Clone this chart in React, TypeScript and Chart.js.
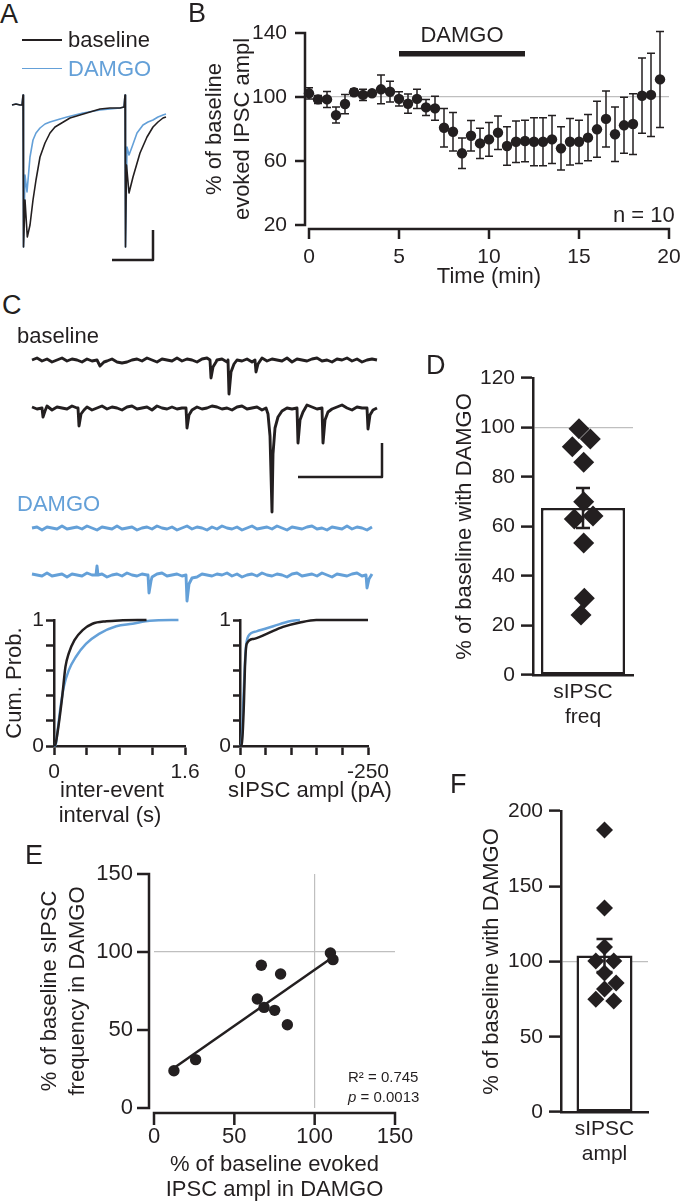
import React, { useEffect, useRef } from 'react';
import { Chart, registerables } from 'chart.js';

Chart.register(...registerables);

const FONT = "'Liberation Sans', Arial, Helvetica, sans-serif";
const INK = '#231f20';
const BLUE = '#64a0d8';
const GRID = '#bfbfbf';
Chart.defaults.font.family = FONT;
Chart.defaults.color = INK;

// ---------- Panel A : evoked IPSC traces (time ms, current pA) ----------
const aBaselineTime = [12, 16, 20, 22, 23, 23.5, 25, 27.3, 30, 33, 36, 40, 45, 50, 55, 60, 70, 80, 90, 100, 110, 120, 124, 125, 125.5, 126.5, 129, 133, 140, 147, 153, 158, 163, 166];
const aBaselineCurrent = [0, 1, 0, 0, 10, -142, -95, -132, -120, -95, -75, -52, -38, -28, -22, -19, -13, -10, -7, -4, -3, -3, -2, 10, -142, -60, -88, -72, -48, -32, -22, -17, -13, -12];
const aDamgoTime = [12, 16, 20, 22, 23, 23.5, 25, 27, 30, 33, 36, 40, 45, 50, 60, 67, 83, 100, 110, 120, 124, 125, 125.5, 127, 129, 132, 137, 143, 148, 153, 158, 163, 166];
const aDamgoCurrent = [0, 1, 0, 0, 10, -142, -70, -87, -52, -35, -28, -23, -19, -17, -14, -12, -8, -5, -4, -3, -2, 10, -142, -42, -50, -42, -28, -20, -17, -15, -12, -10, -9];
const aScaleBarTime = [112, 153, 153];
const aScaleBarCurrent = [-155, -155, -125];

// ---------- Panel B : evoked IPSC time course ----------
const bTime = [0, 0.5, 1, 1.5, 2, 2.5, 3, 3.5, 4, 4.5, 5, 5.5, 6, 6.5, 7, 7.5, 8, 8.5, 9, 9.5, 10, 10.5, 11, 11.5, 12, 12.5, 13, 13.5, 14, 14.5, 15, 15.5, 16, 16.5, 17, 17.5, 18, 18.5, 19, 19.5];
const bMean = [102.3, 98.5, 98.5, 88.7, 95.6, 103, 101.3, 102.3, 104.8, 103.3, 98.8, 95.8, 98.8, 93.5, 92.9, 80.8, 78.3, 64.8, 75.8, 71, 73.5, 77.7, 69.4, 72, 72.5, 72, 72, 73.5, 67.9, 72, 72, 74.6, 79.8, 86.3, 76.7, 82.3, 83.1, 100.8, 101.3, 111];
const bSem = [3.5, 2.5, 5, 5, 6, 2, 3.5, 1, 9, 6.5, 4.5, 6, 6, 5, 7.5, 12, 12, 9.5, 9.5, 9.5, 10.5, 10.5, 12, 13, 13, 15, 15, 15, 13.5, 14.5, 13.5, 14.5, 17.5, 17.5, 17, 17.5, 19, 23.5, 26, 30];
const bDamgoPeriod = [5, 12];
const bDamgoBarLevel = 127;
const bDamgoLabelLevel = 138;

// ---------- Panel C : sIPSC traces ----------
const cSampleStart = 32;
const cSampleStep = 5;
const cTraceLevels = [-30, -78, -198, -245];
const cBase1Noise = [0, 2, -1, 1, -2, 0, 2, -1, 1, 0, -2, 1, -1, 2, 0, -1, 1, -2, -3, -2, 0, 1, -1, 2, 0, -2, 1, 0, -1, 2, -1, 1, 0, -2, 1, 2, -1, 0, 1, -2, 2, 0, -1, 1, -2, 0, 2, -1, 1, 0, -1, 2, -2, 1, 0, -1, 1, 2, -1, 0, -2, 1, 0, 2, -1, 1, -2, 0, 1, 0];
const cBase2Noise = [1, -1, 0, 2, -2, 1, 0, -1, 2, 0, -1, 1, -2, 0, 2, -1, 1, 0, -2, 1, 2, -1, 0, 1, -2, 2, 0, -1, 1, -1, 0, 2, -2, 1, -1, 0, 2, 1, -1, 0, -2, 1, 2, -1, 0, 1, -2, 1, 0, -1, 2, 0, -1, 2, 1, 3, 1, -1, 0, 2, -1, 1, 3, 0, -2, 1, 0, 2, -1, 0];
const cDamgo1Noise = [0, 1, -2, 1, 0, -1, 2, -1, 0, 1, -1, 2, 0, -2, 1, 0, -1, 2, -1, 0, 1, -2, 0, 1, -1, 2, 0, -1, 1, -2, 0, 2, -1, 1, 0, -2, 1, -1, 2, 0, -1, 1, -2, 0, 2, -1, 0, 1, -1, 2, 0, -2, 1, 0, -1, 1, 2, -1, 0, -2, 1, 0, -1, 2, -1, 1, 0, -2, 1];
const cDamgo2Noise = [1, 0, -1, 2, -1, 0, 1, -2, 1, 0, -1, 2, 0, -1, 1, -2, 0, 1, -1, 2, 0, -1, 1, 0, -2, 1, 2, -1, 0, 1, -1, 0, 2, -2, 1, 0, -1, 1, 0, 2, -1, 1, -2, 0, 1, -1, 2, 0, -1, 1, 0, -2, 1, 2, -1, 0, 1, -1, 2, 0, -2, 1, 0, -1, 1, 2, -1, 0, 1];
const cBase1Events = [
  [[97, 0], [100, -6], [104, -2]],
  [[210, 0], [211, -18], [213, -7], [216, -2]],
  [[228, 0], [229, -34], [231, -12], [234, -4]],
  [[255, 0], [256, -12], [258, -4]],
];
const cBase2Events = [
  [[42, 0], [43, -9], [45, -3]],
  [[78, 0], [79, -18], [81, -6], [84, -2]],
  [[186, 0], [187, -20], [189, -7], [192, -2]],
  [[266, 0], [268, -6], [270, -28], [272, -104], [273, -46], [275, -20], [278, -9], [282, -3]],
  [[297, 0], [298, -35], [300, -12], [303, -4]],
  [[322, 0], [323, -35], [325, -12], [328, -4]],
  [[367, 0], [368, -21], [370, -7], [373, -2]],
];
const cDamgo1Events: number[][][] = [];
const cDamgo2Events = [
  [[96, 0], [97, 9], [98, 0]],
  [[148, 0], [149, -18], [151, -6]],
  [[186, 0], [187, -26], [189, -9], [192, -3]],
  [[366, 0], [367, -13], [369, -4]],
];
const cScaleBarTime = [298, 382, 382];
const cScaleBarCurrent = [-147, -147, -113];

// ---------- Panel C : cumulative probability ----------
const cIntervalBaseX = [0, 0.02, 0.053, 0.1, 0.14, 0.18, 0.25, 0.35, 0.47, 0.64, 0.8, 1.13];
const cIntervalBaseY = [0, 0.02, 0.15, 0.39, 0.63, 0.735, 0.84, 0.92, 0.97, 0.99, 0.997, 1.0];
const cIntervalDamgoX = [0, 0.02, 0.04, 0.08, 0.12, 0.18, 0.27, 0.39, 0.55, 0.76, 0.96, 1.17, 1.52];
const cIntervalDamgoY = [0, 0.01, 0.1, 0.31, 0.47, 0.6, 0.71, 0.81, 0.89, 0.95, 0.97, 0.995, 1.0];
const cAmplBaseX = [0, -3, -5.2, -7.8, -9.7, -13, -26, -52, -84, -117, -149, -250];
const cAmplBaseY = [0, 0.01, 0.1, 0.36, 0.63, 0.81, 0.85, 0.89, 0.945, 0.98, 1.0, 1.0];
const cAmplDamgoX = [0, -3, -6.5, -9, -11, -16, -32, -65, -97, -117];
const cAmplDamgoY = [0, 0.02, 0.36, 0.6, 0.76, 0.87, 0.91, 0.95, 0.99, 1.0];

// ---------- Panel D : sIPSC frequency ----------
const dCategory = [['sIPSC', 'freq']];
const dValues = [99.5, 95.4, 92.2, 86, 70, 63, 64.2, 53.3, 31, 24.2];
const dJitter = [-0.06, 0.11, -0.16, 0.01, 0.01, -0.13, 0.15, 0.01, 0.02, -0.03];
const dMean = 67.5;
const dSem = 8.1;

// ---------- Panel E : correlation ----------
const eEvoked = [12.4, 25.9, 66.8, 78.8, 64.3, 68.5, 75.1, 83, 109.8, 111.4];
const eFreq = [23.9, 31, 91.5, 85.9, 69.9, 64.5, 62.6, 53.4, 99.4, 95.1];
const eFitX = [12.4, 111.4];
const eFitY = [25.6, 96.8];

// ---------- Panel F : sIPSC amplitude ----------
const fCategory = [['sIPSC', 'ampl']];
const fValues = [187.4, 135.5, 109.6, 100.3, 100.3, 92.3, 85.7, 81.7, 75, 73.8];
const fJitter = [0, 0, 0, -0.15, 0.16, 0, 0.2, 0, -0.15, 0.16];
const fMean = 104;
const fSem = 11;

// ---------- helpers ----------
const zip = (xs: number[], ys: number[]) => xs.map((x, i) => ({ x, y: ys[i] }));

function buildTrace(noise: number[], events: number[][][], level: number) {
  const pts: { x: number; y: number }[] = [];
  noise.forEach((v, i) => {
    const x = cSampleStart + i * cSampleStep;
    if (events.some((g) => x >= g[0][0] && x <= g[g.length - 1][0])) return;
    pts.push({ x, y: level + v });
  });
  events.forEach((g) => g.forEach(([x, v]) => pts.push({ x, y: level + v })));
  pts.sort((a, b) => a.x - b.x);
  return pts;
}

const fixW = (w: number) => (s: any) => {
  s.width = w;
  s.paddingTop = 0; s.paddingBottom = 0; s.paddingLeft = 0; s.paddingRight = 0;
};
const fixH = (h: number) => (s: any) => {
  s.height = h;
  s.paddingTop = 0; s.paddingBottom = 0; s.paddingLeft = 0; s.paddingRight = 0;
};
const only100 = (c: any) => (c.tick && c.tick.value === 100 ? GRID : 'rgba(0,0,0,0)');
const ttl = (text: any, size = 22, lh = 1.2) => ({ display: true, text, color: INK, padding: 0, font: { size, lineHeight: lh } });
const tk = (extra: any) => ({ autoSkip: false, maxRotation: 0, minRotation: 0, color: INK, ...extra });

function base(padding: any, plugins: any = {}) {
  return {
    responsive: false,
    animation: false,
    devicePixelRatio: 1,
    events: [],
    layout: { padding },
    plugins: { legend: { display: false }, tooltip: { enabled: false }, ...plugins },
  };
}

// axes drawn offset from the plot area (GraphPad style)
const gpAxes = {
  id: 'gpAxes',
  beforeDatasetsDraw(chart: any, _a: any, o: any) {
    if (!o || o.gap === undefined) return;
    const { ctx, chartArea: ca, scales } = chart;
    const xs = scales.x;
    const ys = scales.y;
    const w = o.width;
    const ax = ca.left - o.gap;
    const ay = ca.bottom + o.gap;
    ctx.save();
    ctx.strokeStyle = INK;
    ctx.lineWidth = w;
    ctx.beginPath();
    ctx.moveTo(ax, ys.getPixelForValue(ys.max) - w / 2);
    ctx.lineTo(ax, ys.getPixelForValue(ys.min) + w / 2);
    ys.ticks.forEach((t: any) => {
      const p = ys.getPixelForValue(t.value);
      ctx.moveTo(ax - o.tick, p);
      ctx.lineTo(ax, p);
    });
    ctx.moveTo(xs.getPixelForValue(xs.min) - w / 2, ay);
    ctx.lineTo(xs.getPixelForValue(xs.max) + w / 2, ay);
    xs.ticks.forEach((t: any) => {
      const p = xs.getPixelForValue(t.value);
      ctx.moveTo(p, ay);
      ctx.lineTo(p, ay + o.tick);
    });
    ctx.stroke();
    ctx.restore();
  },
};

function drawErrors(chart: any, args: any, layer: string) {
  const ds = chart.data.datasets[args.index];
  if (!ds || !ds.errors || ds.errorLayer !== layer) return;
  const meta = args.meta;
  const ys = chart.scales[meta.yAxisID];
  const ctx = chart.ctx;
  ctx.save();
  ctx.strokeStyle = INK;
  ctx.lineWidth = ds.errorWidth;
  ctx.beginPath();
  meta.data.forEach((el: any, i: number) => {
    const raw = ds.data[i];
    const v = typeof raw === 'number' ? raw : raw.y;
    const e = ds.errors[i];
    const hi = ys.getPixelForValue(v + e);
    const lo = ys.getPixelForValue(v - e);
    const c = ds.errorCap;
    ctx.moveTo(el.x, hi); ctx.lineTo(el.x, lo);
    ctx.moveTo(el.x - c, hi); ctx.lineTo(el.x + c, hi);
    ctx.moveTo(el.x - c, lo); ctx.lineTo(el.x + c, lo);
  });
  ctx.stroke();
  ctx.restore();
}
const errorBars = {
  id: 'errorBars',
  beforeDatasetDraw(chart: any, args: any) { drawErrors(chart, args, 'before'); },
  afterDatasetDraw(chart: any, args: any) { drawErrors(chart, args, 'after'); },
};

const periodBar = {
  id: 'periodBar',
  afterDatasetsDraw(chart: any, _a: any, o: any) {
    if (!o || !o.range) return;
    const { ctx, scales } = chart;
    const x0 = scales.x.getPixelForValue(o.range[0]);
    const x1 = scales.x.getPixelForValue(o.range[1]);
    const yb = scales.y.getPixelForValue(o.level);
    ctx.save();
    ctx.strokeStyle = INK;
    ctx.lineWidth = o.width;
    ctx.beginPath();
    ctx.moveTo(x0, yb);
    ctx.lineTo(x1, yb);
    ctx.stroke();
    ctx.fillStyle = INK;
    ctx.font = `${o.size}px ${FONT}`;
    ctx.textAlign = 'center';
    ctx.textBaseline = 'middle';
    ctx.fillText(o.label, (x0 + x1) / 2, scales.y.getPixelForValue(o.labelLevel));
    ctx.restore();
  },
};

const hidden = (min: number, max: number) => ({ type: 'linear', display: false, min, max });
const traceDs = (data: any[], color: string, width: number) => ({
  data, showLine: true, borderColor: color, borderWidth: width, pointRadius: 0,
  borderJoinStyle: 'round', borderCapStyle: 'butt', tension: 0, clip: false,
});

// ---------- chart configs ----------
const configA = () => ({
  type: 'scatter',
  data: {
    datasets: [
      traceDs(zip(aBaselineTime, aBaselineCurrent), INK, 1.6),
      traceDs(zip(aDamgoTime, aDamgoCurrent), BLUE, 1.6),
      traceDs(zip(aScaleBarTime, aScaleBarCurrent), INK, 2.5),
    ],
  },
  options: { ...base(0), scales: { x: hidden(0, 180), y: hidden(-165, 25) } },
});

const configCTraces = () => ({
  type: 'scatter',
  data: {
    datasets: [
      traceDs(buildTrace(cBase1Noise, cBase1Events, cTraceLevels[0]), INK, 2.9),
      traceDs(buildTrace(cBase2Noise, cBase2Events, cTraceLevels[1]), INK, 2.9),
      traceDs(buildTrace(cDamgo1Noise, cDamgo1Events, cTraceLevels[2]), BLUE, 2.9),
      traceDs(buildTrace(cDamgo2Noise, cDamgo2Events, cTraceLevels[3]), BLUE, 2.9),
      traceDs(zip(cScaleBarTime, cScaleBarCurrent), INK, 2.5),
    ],
  },
  options: { ...base(0), scales: { x: hidden(0, 400), y: hidden(-280, 0) } },
});

const configB = () => ({
  type: 'scatter',
  data: {
    datasets: [{
      data: zip(bTime, bMean),
      errors: bSem, errorLayer: 'before', errorCap: 4, errorWidth: 1.5,
      pointRadius: 5.2, pointBackgroundColor: INK, pointBorderWidth: 0, clip: false,
    }],
  },
  options: {
    ...base({ left: 11.25, right: 11, top: 33, bottom: 4.8 }, {
      gpAxes: { gap: 4, tick: 10, width: 2.5 },
      periodBar: { range: bDamgoPeriod, level: bDamgoBarLevel, labelLevel: bDamgoLabelLevel, label: 'DAMGO', width: 5.5, size: 22 },
    }),
    scales: {
      x: {
        type: 'linear', min: 0, max: 20,
        ticks: tk({ stepSize: 5, padding: 19.4, font: { size: 21 } }),
        grid: { display: false, drawTicks: false }, border: { display: false },
        title: ttl('Time (min)'), afterFit: fixH(65.2),
      },
      y: {
        type: 'linear', min: 20, max: 140,
        ticks: tk({ stepSize: 40, padding: 22, font: { size: 21 } }),
        grid: { drawTicks: false, color: only100, lineWidth: 1.2 }, border: { display: false },
        title: ttl(['% of baseline', 'evoked IPSC ampl'], 22, 1.25), afterFit: fixW(107.75),
      },
    },
  },
  plugins: [gpAxes, errorBars, periodBar],
});

const cumTicks = (len: number) => ({
  display: true, drawOnChartArea: false, drawTicks: true, tickLength: len, tickWidth: 2.5, tickColor: INK,
});
const cumDs = (data: any[], color: string) => ({
  data, showLine: true, borderColor: color, borderWidth: 2.5, pointRadius: 0,
  cubicInterpolationMode: 'monotone', clip: false,
});
const unitLabel = (v: number) => (Math.abs(v) < 1e-9 ? '0' : Math.abs(v - 1) < 1e-9 ? '1' : '');

const configCumInterval = () => ({
  type: 'scatter',
  data: {
    datasets: [
      cumDs(zip(cIntervalBaseX, cIntervalBaseY), INK),
      cumDs(zip(cIntervalDamgoX, cIntervalDamgoY), BLUE),
    ],
  },
  options: {
    ...base({ left: 1.8, right: 20, top: 20, bottom: 2.5 }),
    scales: {
      x: {
        type: 'linear', min: 0, max: 1.6,
        ticks: tk({
          stepSize: 0.4, padding: 4.4, font: { size: 21 },
          callback: (v: number) => (Math.abs(v) < 1e-9 ? '0' : Math.abs(v - 1.6) < 1e-9 ? '1.6' : ''),
        }),
        grid: cumTicks(9), border: { display: true, width: 2.5, color: INK },
        afterFit: fixH(81.5),
      },
      y: {
        type: 'linear', min: 0, max: 1,
        ticks: tk({ stepSize: 0.2, padding: 2, font: { size: 21 }, callback: unitLabel }),
        grid: cumTicks(8), border: { display: true, width: 2.5, color: INK },
        title: ttl('Cum. Prob.'), afterFit: fixW(52.2),
      },
    },
  },
});

const configCumAmpl = () => ({
  type: 'scatter',
  data: {
    datasets: [
      cumDs(zip(cAmplBaseX, cAmplBaseY), INK),
      cumDs(zip(cAmplDamgoX, cAmplDamgoY), BLUE),
    ],
  },
  options: {
    ...base({ left: 0, right: 32, top: 20, bottom: 26.8 }),
    scales: {
      x: {
        type: 'linear', min: -250, max: 0, reverse: true,
        ticks: tk({
          stepSize: 50, padding: 4.4, font: { size: 21 },
          callback: (v: number) => (v === 0 ? '0' : v === -250 ? '-250' : ''),
        }),
        grid: cumTicks(9), border: { display: true, width: 2.5, color: INK },
        afterFit: fixH(57.2),
      },
      y: {
        type: 'linear', min: 0, max: 1,
        ticks: tk({ stepSize: 0.2, padding: 2, font: { size: 21 }, callback: unitLabel }),
        grid: cumTicks(7), border: { display: true, width: 2.5, color: INK },
        afterFit: fixW(40),
      },
    },
  },
});

function barConfig(opt: {
  labels: any; values: number[]; jitter: number[]; mean: number; sem: number; max: number; step: number;
  radius: number; barPct: number; cap: number; pad: any; yWidth: number; xHeight: number;
}) {
  return {
    type: 'bar',
    data: {
      labels: opt.labels,
      datasets: [
        {
          type: 'scatter', xAxisID: 'xj', data: zip(opt.jitter, opt.values),
          pointStyle: 'rectRot', pointRadius: opt.radius, pointBackgroundColor: INK, pointBorderWidth: 0, clip: false,
        },
        {
          type: 'bar', data: [opt.mean], backgroundColor: '#ffffff', borderColor: INK, borderWidth: 2.5,
          borderSkipped: false, barPercentage: opt.barPct, categoryPercentage: 1, grouped: false,
          errors: [opt.sem], errorLayer: 'after', errorCap: opt.cap, errorWidth: 2.5,
        },
      ],
    },
    options: {
      ...base(opt.pad),
      scales: {
        x: {
          type: 'category', grid: { display: false, drawTicks: false },
          border: { display: true, width: 2.5, color: INK },
          ticks: tk({ padding: 4.4, font: { size: 21, lineHeight: 1.2 } }),
          afterFit: fixH(opt.xHeight),
        },
        xj: { type: 'linear', axis: 'x', display: false, min: -0.5, max: 0.5 },
        y: {
          type: 'linear', min: 0, max: opt.max,
          ticks: tk({ stepSize: opt.step, padding: 6, font: { size: 21 } }),
          grid: { drawOnChartArea: true, color: only100, lineWidth: 1.2, drawTicks: true, tickLength: 12, tickWidth: 2.5, tickColor: INK },
          border: { display: true, width: 2.5, color: INK },
          title: ttl('% of baseline with DAMGO'), afterFit: fixW(opt.yWidth),
        },
      },
    },
    plugins: [errorBars],
  };
}

const configD = () => barConfig({
  labels: dCategory, values: dValues, jitter: dJitter, mean: dMean, sem: dSem, max: 120, step: 20,
  radius: 10.5, barPct: 0.84, cap: 7, pad: { left: 31.8, right: 27, top: 18, bottom: 5 }, yWidth: 81.2, xHeight: 60,
});

const configF = () => barConfig({
  labels: fCategory, values: fValues, jitter: fJitter, mean: fMean, sem: fSem, max: 200, step: 50,
  radius: 8.5, barPct: 0.644, cap: 8, pad: { left: 38.8, right: 22, top: 21, bottom: 8 }, yWidth: 82.2, xHeight: 65,
});

const configE = () => ({
  type: 'scatter',
  data: {
    datasets: [
      { data: zip(eEvoked, eFreq), pointRadius: 5.7, pointBackgroundColor: INK, pointBorderWidth: 0, clip: false },
      { data: zip(eFitX, eFitY), showLine: true, borderColor: INK, borderWidth: 2.5, pointRadius: 0, clip: false },
    ],
  },
  options: {
    ...base({ left: 36, right: 35, top: 14, bottom: 0.5 }, { gpAxes: { gap: 5, tick: 12, width: 2.5 } }),
    scales: {
      x: {
        type: 'linear', min: 0, max: 150,
        ticks: tk({ stepSize: 50, padding: 15.8, font: { size: 22 } }),
        grid: { drawTicks: false, color: only100, lineWidth: 1.2 }, border: { display: false },
        title: ttl(['% of baseline evoked', 'IPSC ampl in DAMGO'], 22, 1.14), afterFit: fixH(94.5),
      },
      y: {
        type: 'linear', min: 0, max: 150,
        ticks: tk({ stepSize: 50, padding: 21, font: { size: 22 } }),
        grid: { drawTicks: false, color: only100, lineWidth: 1.2 }, border: { display: false },
        title: ttl(['% of baseline sIPSC', 'frequency in DAMGO'], 22, 1.27), afterFit: fixW(118),
      },
    },
  },
  plugins: [gpAxes],
});

// ---------- components ----------
function ChartBox({ left, top, width, height, config }: { left: number; top: number; width: number; height: number; config: () => any }) {
  const ref = useRef<HTMLCanvasElement | null>(null);
  useEffect(() => {
    if (!ref.current) return;
    const chart = new Chart(ref.current, config());
    return () => chart.destroy();
  }, []);
  return <canvas ref={ref} width={width} height={height} style={{ position: 'absolute', left, top, width, height }} />;
}

function Txt({ x, cy, size = 22, color = INK, center = false, children }: { x: number; cy: number; size?: number; color?: string; center?: boolean; children: any }) {
  return (
    <div style={{
      position: 'absolute', left: x, top: cy - size / 2, fontSize: size, lineHeight: `${size}px`,
      color, whiteSpace: 'nowrap', transform: center ? 'translateX(-50%)' : undefined,
    }}>{children}</div>
  );
}

export default function App() {
  return (
    <div style={{ position: 'absolute', left: 0, top: 0, width: 680, height: 1203, background: '#ffffff', overflow: 'hidden', fontFamily: FONT, color: INK }}>
      <ChartBox left={0} top={80} width={180} height={190} config={configA} />
      <ChartBox left={190} top={0} width={490} height={295} config={configB} />
      <ChartBox left={0} top={330} width={400} height={280} config={configCTraces} />
      <ChartBox left={0} top={600} width={205} height={230} config={configCumInterval} />
      <ChartBox left={200} top={600} width={200} height={230} config={configCumAmpl} />
      <ChartBox left={420} top={360} width={240} height={380} config={configD} />
      <ChartBox left={0} top={860} width={430} height={343} config={configE} />
      <ChartBox left={440} top={790} width={230} height={395} config={configF} />

      <Txt x={0} cy={14} size={27}>A</Txt>
      <Txt x={188} cy={13} size={27}>B</Txt>
      <Txt x={2} cy={305} size={27}>C</Txt>
      <Txt x={426} cy={365} size={27}>D</Txt>
      <Txt x={25} cy={855} size={27}>E</Txt>
      <Txt x={450} cy={784} size={27}>F</Txt>

      <div style={{ position: 'absolute', left: 22, top: 39.2, width: 40, height: 1.6, background: INK }} />
      <div style={{ position: 'absolute', left: 22, top: 67.7, width: 40, height: 1.6, background: BLUE }} />
      <Txt x={68} cy={40} size={22}>baseline</Txt>
      <Txt x={68} cy={69} size={22} color={BLUE}>DAMGO</Txt>

      <Txt x={613} cy={215} size={22}>n = 10</Txt>

      <Txt x={17} cy={336} size={22}>baseline</Txt>
      <Txt x={17} cy={504} size={22} color={BLUE}>DAMGO</Txt>
      <Txt x={112} cy={790} size={22} center>inter-event</Txt>
      <Txt x={110} cy={815} size={22} center>interval (s)</Txt>
      <Txt x={310} cy={790} size={22} center>sIPSC ampl (pA)</Txt>

      <Txt x={348} cy={1076} size={15}>R² = 0.745</Txt>
      <Txt x={348} cy={1096} size={15}><i>p</i> = 0.0013</Txt>
    </div>
  );
}
